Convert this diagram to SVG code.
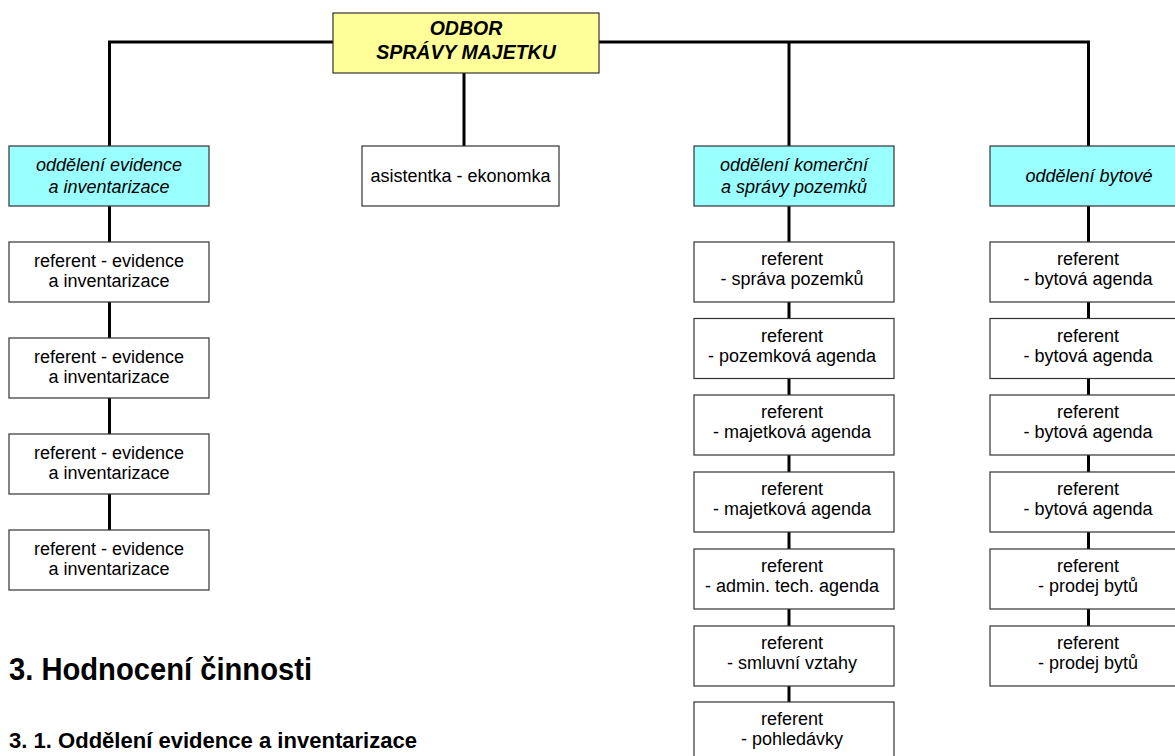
<svg xmlns="http://www.w3.org/2000/svg" width="1175" height="756" viewBox="0 0 1175 756">
<style>
.box{fill:#fff;stroke:#333;stroke-width:1.2}
.dept{fill:#99ffff;stroke:#333;stroke-width:1.2}
.top{fill:#ffff99;stroke:#333;stroke-width:1.2}
.t{font-family:"Liberation Sans",Arial,sans-serif;font-size:18px;fill:#000;text-anchor:middle}
.ti{font-family:"Liberation Sans",Arial,sans-serif;font-size:18px;font-style:italic;fill:#000;text-anchor:middle}
.tb{font-family:"Liberation Sans",Arial,sans-serif;font-size:19.5px;font-style:italic;font-weight:bold;fill:#000;text-anchor:middle}
.h{font-family:"Liberation Sans",Arial,sans-serif;font-weight:bold;fill:#000}
.c{fill:none;stroke:#000;stroke-width:3}
</style>
<g id="connectors">
<path class="c" d="M109.5 146 V42 H1088.5 V146"/>
<path class="c" d="M464 73 V146"/>
<path class="c" d="M789 42 V146"/>
<path class="c" d="M109.5 206 V530"/>
<path class="c" d="M789 206 V702"/>
<path class="c" d="M1088.5 206 V626"/>
</g>
<g id="odbor"><rect class="top" x="333" y="13" width="266" height="60"/><text class="tb" x="466" y="35">ODBOR</text><text class="tb" x="466" y="59">SPRÁVY MAJETKU</text></g>
<g id="dept-evidence"><rect class="dept" x="9" y="146" width="200" height="60"/><text class="ti" x="109" y="171">oddělení evidence</text><text class="ti" x="109" y="193">a inventarizace</text></g>
<g id="asistentka"><rect class="box" x="362" y="146" width="197" height="60"/><text class="t" x="460.5" y="182">asistentka - ekonomka</text></g>
<g id="dept-komercni"><rect class="dept" x="694" y="146" width="200" height="60"/><text class="ti" x="794" y="171">oddělení komerční</text><text class="ti" x="794" y="193">a správy pozemků</text></g>
<g id="dept-bytove"><rect class="dept" x="990" y="146" width="200" height="60"/><text class="ti" x="1089" y="182">oddělení bytové</text></g>

<g id="ev1"><rect class="box" x="9" y="242" width="200" height="60"/><text class="t" x="109" y="267">referent - evidence</text><text class="t" x="109" y="287">a inventarizace</text></g>
<g id="ev2"><rect class="box" x="9" y="338" width="200" height="60"/><text class="t" x="109" y="363">referent - evidence</text><text class="t" x="109" y="383">a inventarizace</text></g>
<g id="ev3"><rect class="box" x="9" y="434" width="200" height="60"/><text class="t" x="109" y="459">referent - evidence</text><text class="t" x="109" y="479">a inventarizace</text></g>
<g id="ev4"><rect class="box" x="9" y="530" width="200" height="60"/><text class="t" x="109" y="555">referent - evidence</text><text class="t" x="109" y="575">a inventarizace</text></g>

<g id="k1"><rect class="box" x="694" y="242" width="200" height="60"/><text class="t" x="792" y="265">referent</text><text class="t" x="792" y="285">- správa pozemků</text></g>
<g id="k2"><rect class="box" x="694" y="318.5" width="200" height="60"/><text class="t" x="792" y="341.5">referent</text><text class="t" x="792" y="361.5">- pozemková agenda</text></g>
<g id="k3"><rect class="box" x="694" y="395" width="200" height="60"/><text class="t" x="792" y="418">referent</text><text class="t" x="792" y="438">- majetková agenda</text></g>
<g id="k4"><rect class="box" x="694" y="472" width="200" height="60"/><text class="t" x="792" y="495">referent</text><text class="t" x="792" y="515">- majetková agenda</text></g>
<g id="k5"><rect class="box" x="694" y="549" width="200" height="60"/><text class="t" x="792" y="572">referent</text><text class="t" x="792" y="592">- admin. tech. agenda</text></g>
<g id="k6"><rect class="box" x="694" y="626" width="200" height="60"/><text class="t" x="792" y="649">referent</text><text class="t" x="792" y="669">- smluvní vztahy</text></g>
<g id="k7"><rect class="box" x="694" y="702" width="200" height="60"/><text class="t" x="792" y="725">referent</text><text class="t" x="792" y="745">- pohledávky</text></g>

<g id="b1"><rect class="box" x="990" y="242" width="200" height="60"/><text class="t" x="1088" y="265">referent</text><text class="t" x="1088" y="285">- bytová agenda</text></g>
<g id="b2"><rect class="box" x="990" y="318.5" width="200" height="60"/><text class="t" x="1088" y="341.5">referent</text><text class="t" x="1088" y="361.5">- bytová agenda</text></g>
<g id="b3"><rect class="box" x="990" y="395" width="200" height="60"/><text class="t" x="1088" y="418">referent</text><text class="t" x="1088" y="438">- bytová agenda</text></g>
<g id="b4"><rect class="box" x="990" y="472" width="200" height="60"/><text class="t" x="1088" y="495">referent</text><text class="t" x="1088" y="515">- bytová agenda</text></g>
<g id="b5"><rect class="box" x="990" y="549" width="200" height="60"/><text class="t" x="1088" y="572">referent</text><text class="t" x="1088" y="592">- prodej bytů</text></g>
<g id="b6"><rect class="box" x="990" y="626" width="200" height="60"/><text class="t" x="1088" y="649">referent</text><text class="t" x="1088" y="669">- prodej bytů</text></g>

<text class="h" x="9" y="680" font-size="32" textLength="303" lengthAdjust="spacingAndGlyphs">3. Hodnocení činnosti</text>
<text class="h" x="9" y="748" font-size="22" textLength="408" lengthAdjust="spacingAndGlyphs">3. 1. Oddělení evidence a inventarizace</text>
</svg>
